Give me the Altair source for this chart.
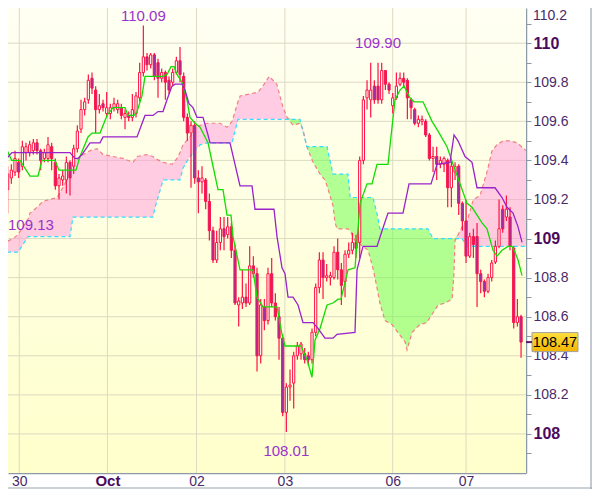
import altair as alt
import pandas as pd

# ---------------- data ----------------
opens = [109.35,109.25,109.31,109.34,109.39,109.37,109.44,109.44,109.45,109.49,
         109.45,109.41,109.41,109.47,109.39,109.27,109.30,109.30,109.39,109.37,
         109.46,109.56,109.66,109.71,109.82,109.76,109.66,109.69,109.64,109.64,
         109.67,109.66,109.67,109.62,109.63,109.62,109.64,109.72,109.85,109.93,
         109.89,109.94,109.90,109.82,109.85,109.81,109.80,109.85,109.91,109.83,
         109.62,109.54,109.58,109.31,109.29,109.30,109.19,109.04,108.89,108.98,
         109.05,109.02,109.06,108.94,108.66,108.67,108.70,108.67,108.86,108.82,
         108.40,108.65,108.58,108.82,108.67,108.60,108.49,108.11,108.24,108.26,
         108.40,108.41,108.41,108.40,108.38,108.52,108.75,108.89,108.80,108.80,
         108.80,108.93,108.84,108.78,108.92,108.94,108.98,108.98,109.40,109.72,
         109.71,109.78,109.78,109.71,109.86,109.79,109.68,109.72,109.79,109.82,
         109.81,109.71,109.66,109.59,109.60,109.60,109.53,109.41,109.42,109.38,
         109.38,109.40,109.26,109.34,109.37,109.18,109.09,108.91,109.01,109.01,
         108.82,108.78,108.73,108.80,108.88,108.96,109.15,109.11,109.11,108.95,
         108.57,108.60]
highs = [109.46,109.37,109.38,109.45,109.41,109.50,109.49,109.50,109.51,109.51,
         109.46,109.46,109.52,109.49,109.41,109.33,109.35,109.42,109.40,109.48,
         109.58,109.71,109.72,109.84,109.85,109.78,109.74,109.71,109.75,109.69,
         109.72,109.71,109.69,109.66,109.65,109.74,109.75,109.90,110.09,109.95,
         109.95,109.95,109.92,109.87,109.86,109.83,109.87,109.93,109.98,109.85,
         109.64,109.60,109.60,109.35,109.37,109.31,109.23,109.06,109.04,109.11,
         109.11,109.11,109.08,108.97,108.70,108.84,108.77,108.96,108.91,108.85,
         108.69,108.69,108.85,108.90,108.72,108.65,108.51,108.26,108.33,108.42,
         108.47,108.47,108.44,108.42,108.54,108.77,108.93,108.93,108.87,108.83,
         108.96,109.00,108.875,108.94,108.98,109.03,109.02,109.42,109.73,109.81,
         109.90,109.81,109.90,109.90,109.86,109.80,109.745,109.85,109.85,109.85,
         109.82,109.72,109.67,109.63,109.63,109.61,109.54,109.47,109.47,109.42,
         109.42,109.41,109.40,109.39,109.38,109.19,109.20,109.03,109.05,109.08,
         108.84,108.79,108.82,108.89,108.99,109.20,109.17,109.22,109.16,108.96,
         108.69,108.61]
lows = [109.24,109.13,109.28,109.32,109.31,109.35,109.40,109.42,109.43,109.43,
        109.35,109.39,109.39,109.35,109.25,109.20,109.27,109.23,109.22,109.33,
        109.44,109.54,109.63,109.69,109.74,109.54,109.64,109.65,109.62,109.61,
        109.65,109.64,109.61,109.56,109.60,109.60,109.62,109.70,109.83,109.86,
        109.87,109.81,109.72,109.80,109.71,109.74,109.78,109.84,109.80,109.60,
        109.50,109.26,109.28,109.13,109.23,109.15,108.99,108.875,108.875,108.94,
        108.94,109.00,108.90,108.66,108.55,108.64,108.65,108.66,108.80,108.32,
        108.36,108.53,108.56,108.65,108.58,108.38,108.09,108.01,108.17,108.13,
        108.38,108.38,108.36,108.35,108.36,108.50,108.72,108.69,108.78,108.76,
        108.79,108.79,108.66,108.70,108.90,108.92,108.90,108.90,109.38,109.66,
        109.62,109.69,109.69,109.69,109.76,109.74,109.64,109.71,109.78,109.77,
        109.61,109.61,109.58,109.57,109.58,109.52,109.40,109.34,109.30,109.36,
        109.34,109.16,109.16,109.30,109.12,109.04,108.875,108.90,108.90,108.65,
        108.72,108.70,108.72,108.78,108.87,108.95,109.03,109.09,108.94,108.54,
        108.55,108.39]
closes = [109.25,109.33,109.35,109.41,109.34,109.47,109.47,109.48,109.49,109.45,
          109.40,109.44,109.48,109.41,109.27,109.31,109.32,109.39,109.31,109.46,
          109.55,109.66,109.70,109.81,109.77,109.66,109.68,109.67,109.67,109.67,
          109.69,109.69,109.63,109.64,109.62,109.66,109.73,109.85,109.93,109.89,
          109.94,109.83,109.82,109.85,109.80,109.76,109.85,109.91,109.84,109.62,
          109.54,109.58,109.31,109.29,109.31,109.19,109.04,108.89,108.98,109.05,
          109.01,109.06,108.94,108.67,108.68,108.70,108.67,108.86,108.82,108.40,
          108.66,108.58,108.82,108.67,108.60,108.49,108.11,108.24,108.25,108.40,
          108.45,108.46,108.38,108.38,108.52,108.75,108.89,108.80,108.81,108.81,
          108.93,108.84,108.76,108.92,108.94,108.98,108.95,109.40,109.71,109.76,
          109.76,109.71,109.71,109.86,109.79,109.76,109.72,109.78,109.82,109.80,
          109.72,109.67,109.59,109.61,109.61,109.53,109.41,109.42,109.38,109.40,
          109.41,109.26,109.37,109.37,109.18,109.09,108.91,109.01,108.97,108.82,
          108.78,108.73,108.80,108.875,108.96,109.05,109.05,109.15,108.96,108.57,
          108.60,108.47]

# conversion line (green) vertices: bar position, price
tenkan_x = [-1.09,2.10,4.36,7.09,9.27,10.36,13.91,15.0,19.63,20.73,22.91,24.0,26.18,
            28.09,29.73,33.0,33.82,35.45,36.27,37.63,38.45,43.36,44.45,45.54,46.36,
            47.18,48.54,49.90,50.72,52.09,53.45,55.63,57.0,58.36,59.72,60.81,61.90,
            62.45,64.36,67.90,69.0,70.63,74.45,75.81,76.63,81.0,82.63,84.0,84.81,
            86.18,88.09,89.72,91.09,91.90,93.81,95.72,97.09,99.0,100.36,101.72,
            104.72,105.81,106.63,108.0,109.09,110.72,111.81,114.27,116.72,118.36,
            120.81,122.45,124.36,126.27,127.63,130.36,131.72,133.36,134.45,135.81,
            137.45,138.54,139.36,140.18,141.27]
tenkan_v = [109.53,109.40,109.40,109.32,109.32,109.40,109.40,109.35,109.35,109.42,
            109.52,109.54,109.54,109.63,109.67,109.67,109.63,109.63,109.65,109.73,
            109.83,109.83,109.84,109.88,109.88,109.84,109.80,109.71,109.62,109.59,
            109.57,109.49,109.37,109.25,109.25,109.12,109.12,109.01,108.84,108.84,
            108.70,108.65,108.65,108.51,108.45,108.45,108.38,108.29,108.48,108.54,
            108.66,108.67,108.69,108.69,108.84,108.85,109.18,109.28,109.28,109.38,
            109.38,109.57,109.71,109.76,109.78,109.72,109.70,109.70,109.60,109.55,
            109.47,109.38,109.28,109.18,109.16,109.08,109.05,108.94,108.91,108.94,
            108.96,108.96,108.93,108.89,108.81]

# base line (purple) vertices
kijun_x = [-1.09,-0.27,2.18,18.0,19.36,20.18,21.27,23.45,26.18,27.0,36.27,38.45,
           40.63,42.0,43.36,44.45,45.81,46.63,48.54,49.36,50.45,51.54,52.63,54.27,
           55.63,56.18,61.63,64.36,67.63,68.45,73.63,74.45,75.81,76.63,77.45,78.81,
           80.18,81.54,84.27,85.63,87.54,89.72,90.81,95.72,96.27,97.90,101.72,103.09,
           104.72,108.81,110.45,116.45,118.09,121.63,122.72,123.81,125.72,127.63,
           128.99,133.90,135.81,137.18,138.81,140.18,141.27]
kijun_v = [109.39,109.39,109.44,109.44,109.41,109.41,109.43,109.49,109.49,109.52,
           109.52,109.63,109.63,109.65,109.65,109.71,109.78,109.79,109.79,109.76,
           109.69,109.67,109.62,109.62,109.53,109.49,109.49,109.27,109.27,109.15,
           109.15,109.01,108.85,108.82,108.70,108.70,108.66,108.57,108.57,108.54,
           108.49,108.49,108.51,108.52,108.84,108.96,108.96,109.04,109.13,109.13,
           109.28,109.28,109.38,109.39,109.53,109.50,109.42,109.39,109.26,109.26,
           109.21,109.16,109.13,109.06,108.98]

# cloud: leading span A (salmon) and span B (cyan) at shared bar positions
cloud_x = [-1.09,0.27,2.45,3.82,5.18,6.55,7.09,9.0,10.6,12.5,14.5,16.6,18.0,18.8,
           20.7,23.5,25.4,27.0,29.7,32.5,35.2,36.3,39.0,40.6,41.2,43.4,45.8,47.2,
           48.0,48.8,50.7,52.6,53.5,55.4,58.9,60.8,62.2,63.8,64.4,67.1,69.3,70.6,
           72.3,74.4,76.1,77.2,78.8,80.7,81.5,82.6,84.3,86.2,87.5,88.1,89.7,90.3,
           90.8,93.8,94.4,95.7,97.9,99.3,100.6,101.7,102.5,103.9,105.8,107.4,109.4,
           109.9,111.3,113.4,115.4,115.6,117.0,118.4,120.3,122.2,122.7,123.0,124.4,
           124.9,126.3,128.0,129.8,131.7,133.1,134.4,136.1,138.0,139.9,142.4]
span_a = [108.93,108.98,109.00,109.02,109.06,109.10,109.13,109.16,109.19,109.20,
          109.21,109.28,109.35,109.38,109.42,109.45,109.46,109.43,109.42,109.41,
          109.39,109.42,109.43,109.42,109.41,109.39,109.38,109.41,109.44,109.48,
          109.52,109.57,109.58,109.59,109.59,109.57,109.60,109.70,109.73,109.74,
          109.75,109.78,109.83,109.79,109.67,109.62,109.58,109.59,109.56,109.47,
          109.39,109.33,109.30,109.27,109.17,109.08,109.05,109.05,109.04,108.99,
          108.96,108.94,108.85,108.75,108.67,108.58,108.56,108.52,108.47,108.43,
          108.52,108.56,108.57,108.58,108.62,108.66,108.67,108.69,108.82,108.99,
          109.04,109.06,109.09,109.20,109.22,109.34,109.45,109.48,109.50,109.50,
          109.49,109.45]
span_b = [108.93,108.93,108.93,108.93,108.97,109.01,109.01,109.01,109.01,109.01,
          109.01,109.01,109.01,109.11,109.11,109.11,109.11,109.11,109.11,109.11,
          109.11,109.11,109.11,109.11,109.16,109.30,109.30,109.30,109.30,109.36,
          109.42,109.46,109.48,109.49,109.49,109.49,109.49,109.61,109.61,109.61,
          109.61,109.61,109.61,109.61,109.61,109.61,109.61,109.61,109.55,109.47,
          109.47,109.47,109.47,109.47,109.33,109.33,109.33,109.33,109.21,109.21,
          109.21,109.21,109.21,109.13,109.05,109.05,109.05,109.05,109.05,109.05,
          109.05,109.05,109.05,109.05,109.00,109.00,109.00,109.00,109.00,109.00,
          109.00,109.00,108.96,108.96,108.96,108.96,108.96,108.96,108.96,108.96,
          108.96,108.96]

# day separators on the time axis (bar positions) and their labels
day_pos = [4.17, 28.2, 52.5, 76.6, 106.0, 126.0]
day_labels = ["30", "Oct", "02", "03", "06", "07"]

# price axis ticks
y_ticks = [107.9, 108.0, 108.1, 108.2, 108.3, 108.4, 108.5, 108.6, 108.7, 108.8,
           108.9, 109.0, 109.1, 109.2, 109.3, 109.4, 109.5, 109.6, 109.7, 109.8,
           109.9, 110.0, 110.1]
y_grid = [108.0, 108.2, 108.4, 108.6, 108.8, 109.0, 109.2, 109.4, 109.6, 109.8, 110.0]
top_tick_label = "110.2"

# ---------------- frames ----------------
FONT = "Liberation Sans"
W, H = 518, 465
XDOM = [1.09, 142.35]
YDOM = [107.80, 110.18]
xs = alt.Scale(domain=XDOM, nice=False, zero=False)
ys = alt.Scale(domain=YDOM, nice=False, zero=False)

n = len(opens)
cdf = pd.DataFrame({"i": list(range(n)), "o": opens, "h": highs, "l": lows, "c": closes})
cdf["dir"] = ["up" if c >= o else "down" for o, c in zip(opens, closes)]
cdf["x0"] = cdf["i"] - 0.3
cdf["x1"] = cdf["i"] + 0.3

tdf = pd.DataFrame({"x": tenkan_x, "v": tenkan_v})
kdf = pd.DataFrame({"x": kijun_x, "v": kijun_v})
cl = pd.DataFrame({"x": cloud_x, "a": span_a, "b": span_b})
cl["top"] = cl[["a", "b"]].max(axis=1)

bg = pd.DataFrame({"x0": [XDOM[0]], "x1": [XDOM[1]], "y0": [YDOM[0]], "y1": [YDOM[1]]})
vgrid = pd.DataFrame({"x": day_pos})
hgrid = pd.DataFrame({"y": y_grid})

LBL_NORMAL = "#4a2a6a"
LBL_BOLD = "#4b0a5e"
AXIS_GREY = "#8c99a6"

even = "round(datum.value*10) % 2 == 0"
whole = "round(datum.value*10) % 10 == 0"
y_axis = alt.Axis(
    orient="right", values=y_ticks, title=None, grid=False,
    labelExpr=f"({even}) ? (({whole}) ? format(datum.value, '.0f') : format(datum.value, '.1f')) : ''",
    labelFont=FONT,
    labelFontSize={"condition": {"test": whole, "value": 16}, "value": 14},
    labelFontWeight={"condition": {"test": whole, "value": "bold"}, "value": "normal"},
    labelColor={"condition": {"test": whole, "value": LBL_BOLD}, "value": LBL_NORMAL},
    labelPadding=2, tickSize=5, tickColor=AXIS_GREY, domainColor=AXIS_GREY,
    domainWidth=1.5, labelBaseline="middle", labelOverlap=False, labelFlush=False,
)
lab_arr = "[" + ",".join(f"'{s}'" for s in day_labels) + "]"
pos_arr = "[" + ",".join(str(p) for p in day_pos) + "]"
oct_test = "datum.value > 20 && datum.value < 40"
x_axis = alt.Axis(
    values=day_pos, title=None, grid=False, ticks=False,
    labelExpr=f"{lab_arr}[indexof({pos_arr}, datum.value)]",
    labelFont=FONT,
    labelFontSize={"condition": {"test": oct_test, "value": 15}, "value": 14},
    labelFontWeight={"condition": {"test": oct_test, "value": "bold"}, "value": "normal"},
    labelColor={"condition": {"test": oct_test, "value": LBL_BOLD}, "value": LBL_NORMAL},
    labelBaseline="alphabetic", labelPadding=12,
    domainColor=AXIS_GREY, domainWidth=1.5,
    labelFlush=False, labelOverlap=False,
)


def X(field):
    return alt.X(field, scale=xs, axis=x_axis)


def Y(field):
    return alt.Y(field, scale=ys, axis=y_axis)


grad_bg = alt.LinearGradient(
    gradient="linear", x1=0, x2=0, y1=0, y2=1,
    stops=[alt.GradientStop(color="#fffff3", offset=0), alt.GradientStop(color="#ffffcc", offset=1)],
)

background = alt.Chart(bg).mark_rect(fill=grad_bg).encode(
    x=X("x0:Q"), x2="x1", y=Y("y0:Q"), y2="y1")

GRID = "#dcdac2"
vrules = alt.Chart(vgrid).mark_rule(color=GRID, strokeWidth=1).encode(x=X("x:Q"))
hrules = alt.Chart(hgrid).mark_rule(color=GRID, strokeWidth=1).encode(y=Y("y:Q"))

pink = alt.Chart(cl).mark_area(color="#ff99dd", opacity=0.5, clip=True).encode(
    x=X("x:Q"), y=Y("b:Q"), y2="top")
green = alt.Chart(cl).mark_area(color="#66ff44", opacity=0.5, clip=True).encode(
    x=X("x:Q"), y=Y("a:Q"), y2="top")
line_a = alt.Chart(cl).mark_line(color="#f28080", strokeWidth=1.2, strokeDash=[4, 3], clip=True).encode(
    x=X("x:Q"), y=Y("a:Q"))
line_b = alt.Chart(cl).mark_line(color="#33ddff", strokeWidth=1.2, strokeDash=[4, 3], clip=True).encode(
    x=X("x:Q"), y=Y("b:Q"))

CANDLE = "#ff1144"
wicks = alt.Chart(cdf).mark_rule(color=CANDLE, strokeWidth=1.2, clip=True).encode(
    x=X("i:Q"), y=Y("l:Q"), y2="h")
bodies = alt.Chart(cdf).mark_rect(stroke=CANDLE, strokeWidth=1, clip=True).encode(
    x=X("x0:Q"), x2="x1", y=Y("o:Q"), y2="c",
    fill=alt.Fill("dir:N", scale=alt.Scale(domain=["up", "down"], range=["#fffff8", "#9933aa"]), legend=None),
)

tenkan = alt.Chart(tdf).mark_line(color="#11dd00", strokeWidth=1.3, clip=True).encode(
    x=X("x:Q"), y=Y("v:Q"))
kijun = alt.Chart(kdf).mark_line(color="#9922cc", strokeWidth=1.3, clip=True).encode(
    x=X("x:Q"), y=Y("v:Q"))

# annotations of extreme prices
ANN = "#9933cc"
hi_i = highs.index(max(highs))
lo_i = lows.index(min(lows))


def ann(i, v, dy, align="center"):
    d = pd.DataFrame({"x": [i], "v": [v], "t": [f"{v:.2f}"]})
    return alt.Chart(d).mark_text(font=FONT, fontSize=15, color=ANN, align=align,
                                  baseline="alphabetic", dy=dy).encode(
        x=X("x:Q"), y=Y("v:Q"), text="t:N")


a1 = ann(hi_i, highs[hi_i], -5)
a2 = ann(102, highs[102], -15)
a3 = ann(lo_i, lows[lo_i], 24)
a4 = ann(XDOM[0], lows[1], 17, align="left")

# last price box on the price axis
last = closes[-1]
half = 9.5 * (YDOM[1] - YDOM[0]) / H
pb = pd.DataFrame({"v": [last], "y0": [last - half], "y1": [last + half], "t": [f"{last:.2f}"]})
grad_box = alt.LinearGradient(
    gradient="linear", x1=0, x2=0, y1=0, y2=1,
    stops=[alt.GradientStop(color="#ffe040", offset=0), alt.GradientStop(color="#f2b400", offset=1)],
)
box = alt.Chart(pb).mark_rect(fill=grad_box, stroke="#a0a0a0", strokeWidth=1).encode(
    x=alt.value(W + 6), x2=alt.value(W + 52), y=Y("y1:Q"), y2="y0")
box_text = alt.Chart(pb).mark_text(font=FONT, fontSize=14.5, color="#000000",
                                   align="center", baseline="middle", dy=1).encode(
    x=alt.value(W + 29), y=Y("v:Q"), text="t:N")
box_tick = alt.Chart(pb).mark_rule(color="#5a1a6a", strokeWidth=2).encode(
    x=alt.value(W), x2=alt.value(W + 6), y=Y("v:Q"))

top_lbl = alt.Chart(pd.DataFrame({"t": [top_tick_label]})).mark_text(
    font=FONT, fontSize=14, color=LBL_NORMAL, align="left", baseline="top").encode(
    x=alt.value(W + 7), y=alt.value(0.5), text="t:N")

PR, PB = 66, 16
frame = pd.DataFrame({"a": [0]})
border_r = alt.Chart(frame).mark_rule(color="#9aa4ac", strokeWidth=1.2).encode(
    x=alt.value(W + PR - 1), y=alt.value(-8), y2=alt.value(H + PB))
border_b = alt.Chart(frame).mark_rule(color="#9aa4ac", strokeWidth=1.2).encode(
    y=alt.value(H + PB - 1), x=alt.value(-8), x2=alt.value(W + PR))

chart = alt.layer(
    background, vrules, hrules, pink, green, line_a, line_b,
    wicks, bodies, tenkan, kijun, a1, a2, a3, a4,
    box, box_text, box_tick, top_lbl, border_r, border_b,
).properties(
    width=W, height=H,
    autosize=alt.AutoSizeParams(type="none"),
    padding={"left": 0, "top": 0, "right": PR, "bottom": PB},
).configure_view(stroke=None)

chart.save("out.html", embed_options={"renderer": "svg", "actions": False})
